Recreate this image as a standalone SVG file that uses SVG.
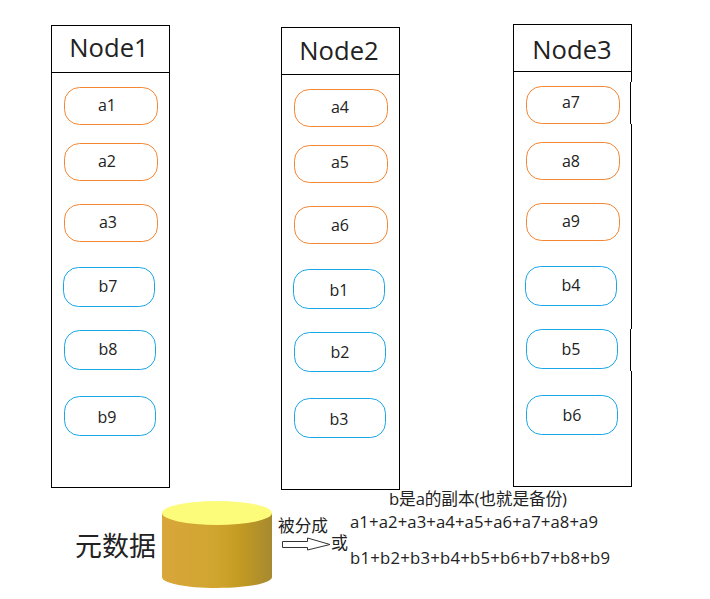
<svg xmlns="http://www.w3.org/2000/svg" width="710" height="599" viewBox="0 0 710 599">
<style>
text{font-family:"Open Sans","Noto Sans CJK SC","Noto Sans",sans-serif;fill:#222}
.box{fill:#fff;stroke:#000;stroke-width:1}
.a{fill:#fff;stroke:#f58634;stroke-width:1}
.b{fill:#fff;stroke:#1aa7e8;stroke-width:1}
.t{font-size:16px;text-anchor:middle}
.h{font-size:25.600px;text-anchor:middle}
.s{font-size:16.700px}
.o{font-size:17px}
</style>
<defs>
<linearGradient id="cyl" x1="0" y1="0" x2="1" y2="0">
<stop offset="0" stop-color="#d9a63a"/><stop offset="0.5" stop-color="#d0a52f"/><stop offset="0.7" stop-color="#c49b22"/><stop offset="1" stop-color="#a68a30"/>
</linearGradient>
</defs>
<g id="node1">
<rect class="box" x="51.5" y="25.5" width="118" height="462"/><line class="box" x1="51.5" y1="72.5" x2="169.5" y2="72.5"/>
<text class="h" x="109" y="57">Node1</text>
<rect class="a" x="64.5" y="87.500" width="93" height="37" rx="15"/><text class="t" x="107" y="111">a1</text>
<rect class="a" x="64.5" y="143.500" width="93" height="37" rx="15"/><text class="t" x="107" y="167">a2</text>
<rect class="a" x="64.5" y="204.500" width="93" height="37" rx="15"/><text class="t" x="108" y="228">a3</text>
<rect class="b" x="63.5" y="267.500" width="91" height="39" rx="15"/><text class="t" x="108" y="292">b7</text>
<rect class="b" x="64.5" y="330.500" width="91" height="39" rx="15"/><text class="t" x="108" y="355">b8</text>
<rect class="b" x="64.5" y="396.500" width="91" height="39" rx="15"/><text class="t" x="107" y="423">b9</text>
</g>
<g id="node2">
<rect class="box" x="281.5" y="27.5" width="118" height="462"/><line class="box" x1="281.5" y1="74.5" x2="399.5" y2="74.5"/>
<text class="h" x="339" y="60">Node2</text>
<rect class="a" x="294.5" y="89.500" width="93" height="37" rx="15"/><text class="t" x="340" y="113">a4</text>
<rect class="a" x="294.5" y="145.500" width="93" height="37" rx="15"/><text class="t" x="340" y="168">a5</text>
<rect class="a" x="294.5" y="206.500" width="93" height="37" rx="15"/><text class="t" x="340" y="231">a6</text>
<rect class="b" x="293.5" y="269.500" width="91" height="39" rx="15"/><text class="t" x="339" y="296">b1</text>
<rect class="b" x="294.5" y="332.500" width="91" height="39" rx="15"/><text class="t" x="340" y="358">b2</text>
<rect class="b" x="294.5" y="398.500" width="91" height="39" rx="15"/><text class="t" x="339" y="425">b3</text>
</g>
<g id="node3">
<rect class="box" x="513.5" y="24.5" width="118" height="462"/><line class="box" x1="513.5" y1="71.5" x2="631.5" y2="71.5"/>
<text class="h" x="572" y="59">Node3</text>
<line x1="631.5" y1="82" x2="631.5" y2="124" stroke="#fff" stroke-width="2"/>
<line x1="630.5" y1="82" x2="630.5" y2="124" stroke="#000"/>
<line x1="631.5" y1="329" x2="631.5" y2="371" stroke="#fff" stroke-width="2"/>
<line x1="630.5" y1="329" x2="630.5" y2="371" stroke="#000"/>
<rect class="a" x="526.5" y="86.500" width="93" height="37" rx="15"/><text class="t" x="571" y="108">a7</text>
<rect class="a" x="526.5" y="142.500" width="93" height="37" rx="15"/><text class="t" x="571" y="167">a8</text>
<rect class="a" x="526.5" y="203.500" width="93" height="37" rx="15"/><text class="t" x="571" y="227">a9</text>
<rect class="b" x="525.5" y="266.500" width="91" height="39" rx="15"/><text class="t" x="571" y="291">b4</text>
<rect class="b" x="526.5" y="329.500" width="91" height="39" rx="15"/><text class="t" x="571" y="355">b5</text>
<rect class="b" x="526.5" y="395.500" width="91" height="39" rx="15"/><text class="t" x="572" y="421">b6</text>
</g>
<g id="metadata">
<path d="M162 513V577C162 583 185 588 217 588S272 583 272 577V513Z" fill="url(#cyl)"/>
<ellipse cx="217" cy="513" rx="55" ry="12" fill="#fdfb7a"/>
<text x="75" y="556" font-size="27">元数据</text>
</g>
<g id="connectors">
<path d="M282.500 541.500H307.500V538L330 544.500L307.500 550V547.500H282.500Z" fill="#fff" stroke="#333" stroke-width="1"/>
</g>
<g id="labels">
<text class="s" x="278" y="532">被分成</text>
<text class="o" x="331" y="549">或</text>
<text class="s" x="389" y="505" textLength="178">b是a的副本(也就是备份)</text>
<text class="s" x="350" y="528" textLength="248">a1+a2+a3+a4+a5+a6+a7+a8+a9</text>
<text class="s" x="350" y="564" textLength="260">b1+b2+b3+b4+b5+b6+b7+b8+b9</text>
</g>
</svg>
